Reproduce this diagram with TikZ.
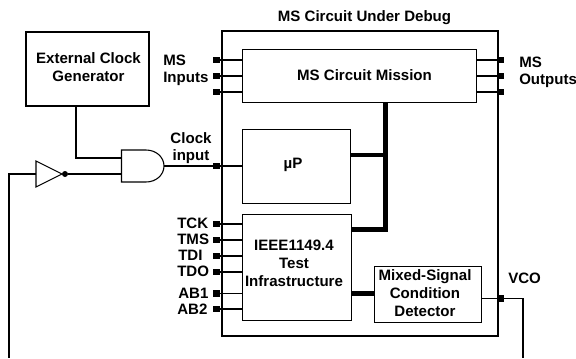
\documentclass[tikz,border=0pt]{standalone}
\usepackage{fontspec}
\setmainfont{Liberation Sans}
\begin{document}
\begin{tikzpicture}[x=0.75pt,y=-0.75pt,
  blockbox/.style={draw,line width=0.75pt,inner sep=0pt,anchor=north west,align=center},
  heavybox/.style={draw,line width=1.6pt,inner sep=0pt,anchor=north west},
  wire/.style={line width=0.8pt},
  bus/.style={line width=3.6pt},
  pin/.style={fill=black,inner sep=0pt,minimum size=5pt},
  lab/.style={font=\bfseries\fontsize{11.3pt}{13.5pt}\selectfont,inner sep=0pt,align=center},
  labl/.style={lab,anchor=west,align=left}]
\useasboundingbox (0,0) rectangle (576,358);
% outer
\node[heavybox,minimum width=207.4pt,minimum height=228.6pt] (cud) at (220.5,30) {};
\node[lab] (cudt) at (364.5,17.5) {MS Circuit Under Debug};
\node[heavybox,minimum width=92.2pt,minimum height=55.9pt] (ext) at (25,30.5) {};
\node[lab] at (88.5,67) {External Clock\\Generator};
% blocks
\node[blockbox,minimum width=175.5pt,minimum height=39.75pt] (mis) at (241.5,49) {};
\node[lab] at (364.5,75) {MS Circuit Mission};
\node[blockbox,minimum width=81.5pt,minimum height=56pt] (up) at (241.5,128.5) {};
\node[lab] at (293,165) {µP};
\node[blockbox,minimum width=82pt,minimum height=80pt] (ieee) at (242,213.5) {};
\node[lab] at (294,263) {IEEE1149.4\\Test\\Infrastructure};
\node[blockbox,minimum width=80pt,minimum height=42pt] (det) at (374,266) {};
\node[lab] at (425,293.5) {Mixed-Signal\\Condition\\Detector};
% buses
\coordinate (bt) at (385.5,102);
\coordinate (bm) at (385.5,155);
\coordinate (bb) at (385.5,229.5);
\draw[bus] (bt) -- (bb) -- (ieee.east |- bb);
\draw[bus] (bm) -- (up.east |- bm);
\draw[bus] (ieee.east |- 0,293.5) -- (det.west |- 0,293.5);
% left pins
\foreach \n/\y in {a/60,b/76,c/92,clk/166,tck/224,tms/240,tdi/256,tdo/272,abo/293.5,abt/309}{
  \node[pin] (p\n) at (216.8,\y) {};
}
\foreach \n in {a,b,c}{\draw[wire] (p\n.center) -- (mis.west |- p\n);}
\foreach \n in {tck,tms,tdi,tdo,abo,abt}{\draw[wire] (p\n.center) -- (ieee.west |- p\n);}
\draw[wire] (pclk.center) -- (up.west |- pclk);
% right pins
\foreach \n/\y in {a/60,b/76,c/92}{
  \node[pin] (q\n) at (500.5,\y) {};
  \draw[wire] (q\n.center) -- (mis.east |- q\n);
}
\node[pin] (qv) at (500.5,298.5) {};
\draw[wire] (det.east |- qv) -- (qv.center);
\coordinate (vc) at (523,298.5);
\coordinate (ve) at (523,358);
\draw[wire] (qv.center) -- (vc) -- (ve);
% gate
\coordinate (g1) at (121.5,158);
\coordinate (g2) at (121.5,174);
\draw[wire] (121.5,150) -- (146,150) .. controls (156,150) and (164,157) .. (164,166) .. controls (164,175) and (156,182) .. (146,182) -- (121.5,182) -- cycle;
\coordinate (gout) at (164,166);
\draw[wire] (gout) -- (pclk.center);
\draw[wire] (ext.south -| 76,0) -- (76,158) -- (g1);
% inverter
\draw[wire] (36,161) -- (62,174) -- (36,187) -- cycle;
\node[circle,fill=black,inner sep=0pt,minimum size=4.5pt] (dot) at (65,174) {};
\draw[wire] (dot) -- (g2);
\coordinate (il) at (9,174);
\coordinate (ie) at (9,358);
\draw[wire] (36,174) -- (il) -- (ie);
% labels
\node[labl] at (163,60.5) {MS};
\node[labl] at (163,79) {Inputs};
\node[labl] at (519,62) {MS};
\node[labl] at (519,81) {Outputs};
\node[lab] at (191,138.5) {Clock};
\node[lab] at (191,157) {input};
\node[labl] at (508,278) {VCO};
\node[labl] at (177,223) {TCK};
\node[labl] at (177,239) {TMS};
\node[labl] at (178,255) {TDI};
\node[labl] at (177,271) {TDO};
\node[labl] at (178,293) {AB1};
\node[labl] at (177,309) {AB2};
\end{tikzpicture}
\end{document}
